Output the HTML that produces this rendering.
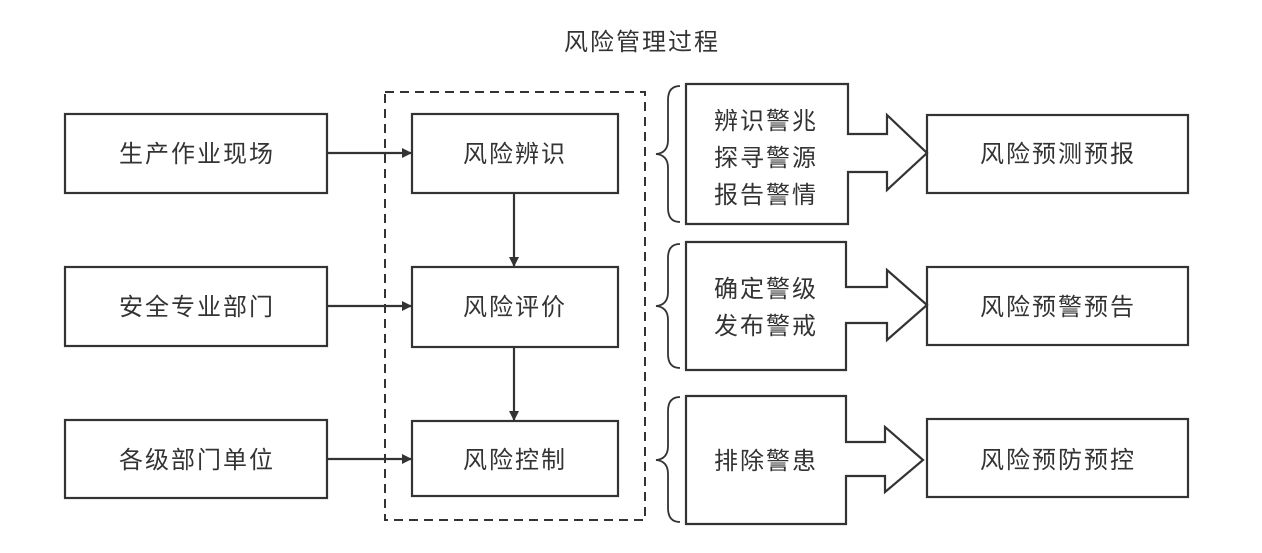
<!DOCTYPE html>
<html><head><meta charset="utf-8"><style>
body{margin:0;background:#fff}
text{font-family:"Liberation Sans","Noto Sans CJK SC",sans-serif;font-size:24px;fill:#333;letter-spacing:2px}
</style></head><body>
<svg width="1262" height="548" viewBox="0 0 1262 548" xmlns="http://www.w3.org/2000/svg">
<defs><marker id="a" markerWidth="10" markerHeight="10" refX="9" refY="5" orient="auto" markerUnits="userSpaceOnUse"><path d="M0,0 L10,5 L0,10 Z" fill="#333"/></marker></defs>
<g stroke="#333" stroke-width="2.2" fill="none">
<text x="642" y="50" text-anchor="middle" stroke="none">风险管理过程</text>
<rect x="385" y="92" width="260" height="428" stroke-dasharray="9,6" stroke-width="2"/>
<rect x="65" y="114" width="262" height="79"/>
<rect x="65" y="267" width="262" height="79"/>
<rect x="65" y="420" width="262" height="78"/>
<rect x="412" y="114" width="206" height="79"/>
<rect x="412" y="267" width="206" height="80"/>
<rect x="412" y="421" width="206" height="75"/>
<line x1="327" y1="153" x2="411" y2="153" marker-end="url(#a)"/>
<line x1="327" y1="306" x2="411" y2="306" marker-end="url(#a)"/>
<line x1="327" y1="459" x2="411" y2="459" marker-end="url(#a)"/>
<line x1="514" y1="193" x2="514" y2="266" marker-end="url(#a)"/>
<line x1="514" y1="347" x2="514" y2="420" marker-end="url(#a)"/>
<path d="M686,84 H848 V134 H887 V115 L927,153 L887,190 V172 H848 V224 H686 Z"/>
<path d="M686,242 H846 V287 H887 V270 L927,305 L887,340 V323 H846 V370 H686 Z"/>
<path d="M686,396 H846 V442 H885 V427 L923,460 L885,492 V476 H846 V524 H686 Z"/>
<rect x="927" y="115" width="261" height="78"/>
<rect x="927" y="267" width="261" height="78"/>
<rect x="927" y="419" width="261" height="78"/>
<path d="M680,86 Q668,86 668,100 V140 Q668,153 656,154 Q668,155 668,168 V208 Q668,222 680,222" stroke-width="1.8"/>
<path d="M680,244 Q668,244 668,258 V292 Q668,305 656,306 Q668,307 668,320 V354 Q668,368 680,368" stroke-width="1.8"/>
<path d="M680,397 Q668,397 668,411 V446 Q668,459 656,460 Q668,461 668,474 V508 Q668,522 680,522" stroke-width="1.8"/>
</g>
<g text-anchor="middle">
<text x="197" y="162">生产作业现场</text>
<text x="197" y="315">安全专业部门</text>
<text x="197" y="468">各级部门单位</text>
<text x="515" y="162">风险辨识</text>
<text x="515" y="315">风险评价</text>
<text x="515" y="468">风险控制</text>
<text x="766" y="129">辨识警兆</text>
<text x="766" y="166">探寻警源</text>
<text x="766" y="203">报告警情</text>
<text x="766" y="297">确定警级</text>
<text x="766" y="334">发布警戒</text>
<text x="766" y="469">排除警患</text>
<text x="1058" y="162">风险预测预报</text>
<text x="1058" y="315">风险预警预告</text>
<text x="1058" y="468">风险预防预控</text>
</g>
</svg>
</body></html>
